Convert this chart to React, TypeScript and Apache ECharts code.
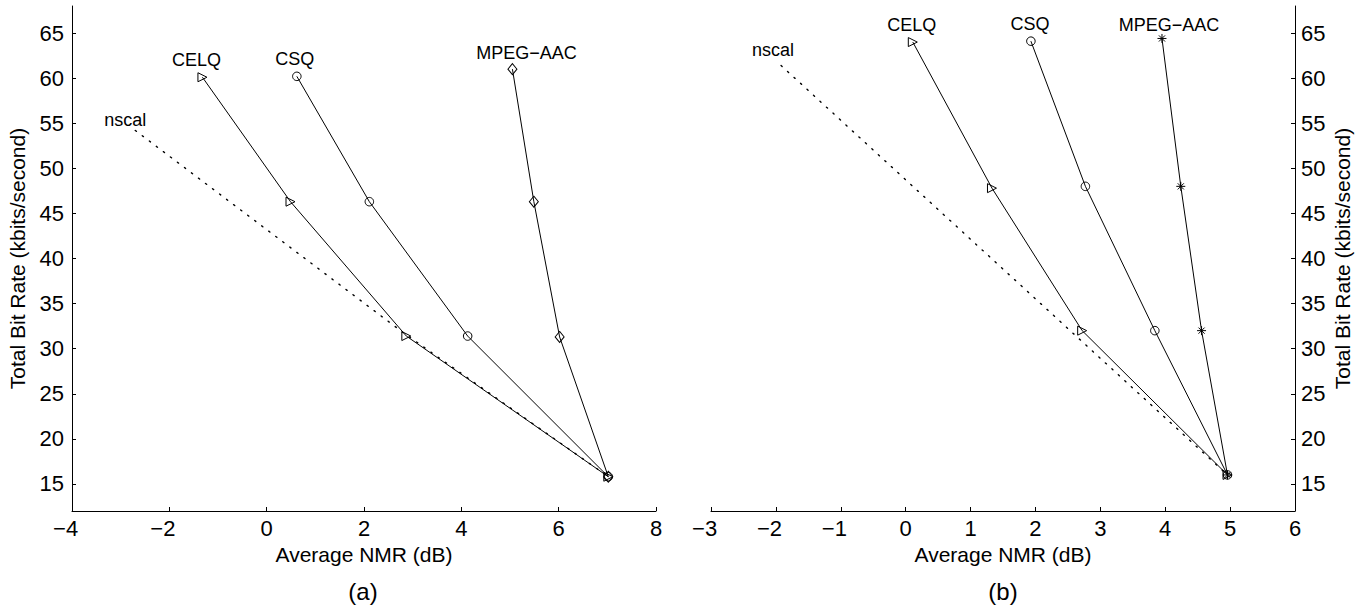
import { useEffect, useRef } from 'react';
import * as echarts from 'echarts';

// ---- Data (a) ----
const nscalA = [[-2.7, 54.2], [2.8, 31.8], [7.02, 15.8]];
const celqA = [[-1.32, 60.1], [0.49, 46.3], [2.87, 31.4], [7.02, 15.8]];
const csqA = [[0.62, 60.2], [2.11, 46.3], [4.13, 31.4], [7.02, 15.8]];
const mpegA = [[5.05, 61.0], [5.49, 46.3], [6.02, 31.3], [7.02, 15.8]];

// ---- Data (b) ----
const nscalB = [[-1.92, 61.4], [4.96, 16.0]];
const celqB = [[0.11, 64.0], [1.33, 47.8], [2.72, 32.0], [4.96, 16.0]];
const csqB = [[1.93, 64.1], [2.77, 48.0], [3.84, 32.0], [4.96, 16.0]];
const mpegB = [[3.95, 64.4], [4.24, 48.0], [4.56, 32.0], [4.96, 16.0]];

const yTickValues = [15, 20, 25, 30, 35, 40, 45, 50, 55, 60, 65];
const xLabel = 'Average NMR (dB)';
const yLabel = 'Total Bit Rate (kbits/second)';
const panelLabels = ['(a)', '(b)'];

const FONT = '"Liberation Sans", Arial, Helvetica, sans-serif';
const INK = '#000';
const TICK_FS = 22;

const ASTERISK = 'path://M5,0L5,10M0,5L10,5M1.6,1.6L8.4,8.4M1.6,8.4L8.4,1.6';

function withLabel(data: number[][], name: string, offset: number[]) {
  return data.map((p, i) =>
    i === 0
      ? {
          value: p,
          label: {
            show: true,
            formatter: name,
            position: 'inside',
            offset,
            color: INK,
            fontSize: 18,
            fontFamily: FONT,
          },
        }
      : { value: p }
  );
}

function lineSeries(
  idx: number,
  name: string,
  data: number[][],
  symbol: string,
  symbolSize: any,
  rotate: number,
  offset: number[]
) {
  return {
    type: 'line',
    name,
    xAxisIndex: idx,
    yAxisIndex: idx,
    data: withLabel(data, name, offset),
    symbol,
    symbolSize,
    symbolRotate: rotate,
    showSymbol: true,
    lineStyle: { color: INK, width: 1 },
    itemStyle: { color: 'rgba(0,0,0,0)', borderColor: INK, borderWidth: 1 },
    emphasis: { disabled: true },
    silent: true,
    z: 3,
  };
}

function nscalSeries(idx: number, data: number[][], offset: number[]) {
  return {
    type: 'line',
    name: 'nscal',
    xAxisIndex: idx,
    yAxisIndex: idx,
    data: withLabel(data, 'nscal', offset),
    symbol: 'circle',
    symbolSize: 1,
    showSymbol: true,
    lineStyle: { color: INK, width: 1.4, type: [1.4, 7.4], cap: 'round' },
    itemStyle: { color: 'rgba(0,0,0,0)', borderWidth: 0 },
    emphasis: { disabled: true },
    silent: true,
    z: 2,
  };
}

function xAxis(idx: number, min: number, max: number, interval: number) {
  return {
    gridIndex: idx,
    type: 'value',
    min,
    max,
    interval,
    axisLine: { show: true, onZero: false, lineStyle: { color: INK, width: 1 } },
    axisTick: { show: true, inside: true, length: 4, lineStyle: { color: INK, width: 1 } },
    axisLabel: {
      color: INK,
      fontSize: TICK_FS,
      fontFamily: FONT,
      margin: 6,
      formatter: (v: number) => (v < 0 ? '\u2212' + String(-v) + '{h|\u2212}' : String(v)),
      rich: {
        h: { color: 'rgba(0,0,0,0)', fontSize: TICK_FS, fontFamily: FONT },
      },
    },
    splitLine: { show: false },
    name: xLabel,
    nameLocation: 'middle',
    nameGap: 29,
    nameTextStyle: { color: INK, fontSize: 21, fontFamily: FONT },
  };
}

function yAxis(idx: number, position: string, nameGap: number, margin: number) {
  return {
    gridIndex: idx,
    type: 'value',
    position,
    min: 12,
    max: 68,
    axisLine: { show: true, onZero: false, lineStyle: { color: INK, width: 1 } },
    axisTick: {
      show: true,
      inside: true,
      length: 4,
      customValues: yTickValues,
      lineStyle: { color: INK, width: 1 },
    },
    axisLabel: {
      color: INK,
      fontSize: TICK_FS,
      fontFamily: FONT,
      margin,
      customValues: yTickValues,
    },
    splitLine: { show: false },
    name: yLabel,
    nameLocation: 'middle',
    nameGap,
    nameTextStyle: { color: INK, fontSize: 21, fontFamily: FONT },
  };
}

export default function App() {
  const ref = useRef<HTMLDivElement>(null);

  useEffect(() => {
    if (!ref.current) return;
    const chart = echarts.init(ref.current, null, { renderer: 'svg' });
    const option: any = {
      animation: false,
      backgroundColor: '#fff',
      textStyle: { fontFamily: FONT },
      grid: [
        { left: 72, top: 6, width: 584, height: 505 },
        { left: 711, top: 6, width: 584, height: 505 },
      ],
      xAxis: [xAxis(0, -4, 8, 2), xAxis(1, -3, 6, 1)],
      yAxis: [yAxis(0, 'left', 44, 8), yAxis(1, 'right', 37, 6)],
      series: [
        nscalSeries(0, nscalA, [-10, -10]),
        lineSeries(0, 'CELQ', celqA, 'triangle', 9, -90, [-6, -17]),
        lineSeries(0, 'CSQ', csqA, 'circle', 8.5, 0, [-2, -17]),
        lineSeries(0, 'MPEG\u2212AAC', mpegA, 'diamond', [9, 11], 0, [14, -16]),
        nscalSeries(1, nscalB, [-8, -16]),
        lineSeries(1, 'CELQ', celqB, 'triangle', 9, -90, [-1, -17]),
        lineSeries(1, 'CSQ', csqB, 'circle', 8.5, 0, [-1, -17]),
        lineSeries(1, 'MPEG\u2212AAC', mpegB, ASTERISK, 9, 0, [7, -13]),
      ],
      graphic: [
        {
          type: 'text',
          x: 363,
          y: 591,
          style: {
            text: panelLabels[0],
            fill: INK,
            fontSize: 24,
            fontFamily: FONT,
            align: 'center',
            verticalAlign: 'middle',
            textAlign: 'center',
            textVerticalAlign: 'middle',
          },
        },
        {
          type: 'text',
          x: 1003,
          y: 591,
          style: {
            text: panelLabels[1],
            fill: INK,
            fontSize: 24,
            fontFamily: FONT,
            align: 'center',
            verticalAlign: 'middle',
            textAlign: 'center',
            textVerticalAlign: 'middle',
          },
        },
      ],
    };
    chart.setOption(option);
    return () => chart.dispose();
  }, []);

  return (
    <div
      ref={ref}
      style={{ position: 'absolute', left: 0, top: 0, width: 1367, height: 607, background: '#fff' }}
    />
  );
}
